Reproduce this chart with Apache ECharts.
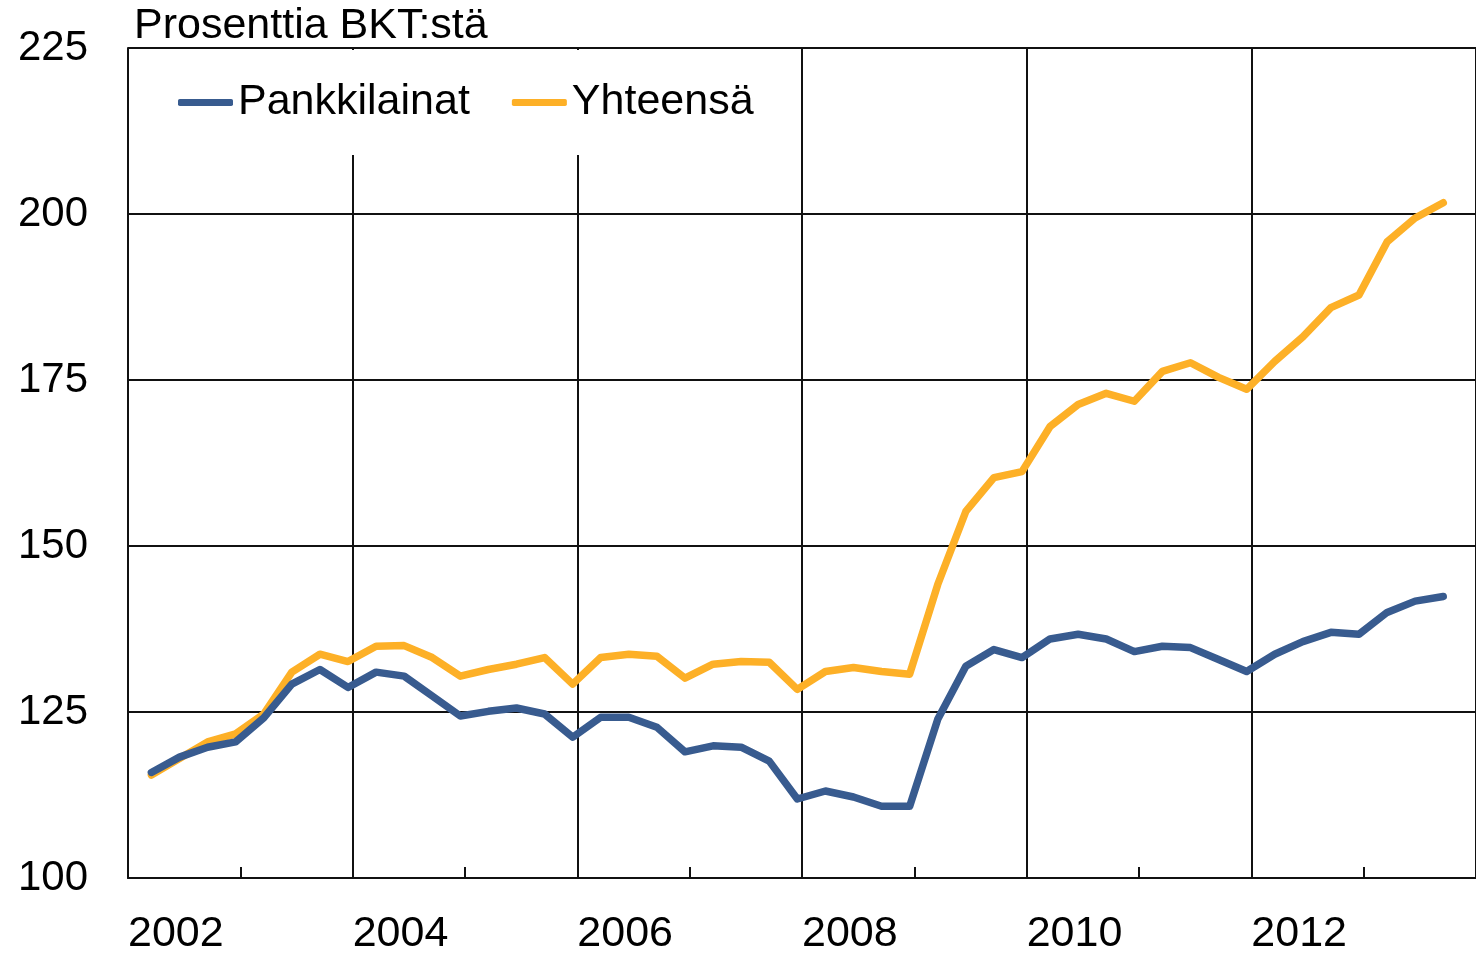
<!DOCTYPE html>
<html lang="fi">

<head>
    <meta charset="UTF-8">
    <title>Prosenttia BKT:stä</title>
    <script src="https://cdn.jsdelivr.net/npm/echarts@6/dist/echarts.min.js"></script>
    <style>
        body { margin: 0; background: #fff; }
    </style>
</head>

<body>
    <div id="main" style="width: 1476px;height:956px;"></div>
    <script>
        // neljännesvuodet 2002Q1 ... 2013Q3
        var quarters = [];
        for (var y = 2002; y <= 2013; y++) {
            for (var q = 1; q <= 4; q++) {
                if (y === 2013 && q === 4) break;
                quarters.push(y + 'Q' + q);
            }
        }

        var pankkilainat = [
            115.9, 118.2, 119.7, 120.5, 124.1, 129.2, 131.4, 128.7, 131.0, 130.4, 127.4, 124.4,
            125.1, 125.6, 124.7, 121.2, 124.2, 124.2, 122.7, 119.0, 119.9, 119.7, 117.6, 111.9,
            113.1, 112.2, 110.8, 110.8, 123.9, 131.9, 134.4, 133.2, 136.0, 136.7, 136.0, 134.1,
            134.9, 134.7, 132.9, 131.1, 133.7, 135.6, 137.0, 136.7, 140.0, 141.7, 142.4
        ];
        var yhteensa = [
            115.5, 118.0, 120.5, 121.7, 124.7, 131.0, 133.7, 132.6, 134.9, 135.0, 133.2, 130.4,
            131.4, 132.2, 133.2, 129.2, 133.2, 133.7, 133.4, 130.1, 132.2, 132.6, 132.5, 128.4,
            131.1, 131.7, 131.1, 130.7, 144.2, 155.2, 160.3, 161.2, 168.0, 171.3, 173.0, 171.8,
            176.3, 177.6, 175.4, 173.6, 177.8, 181.5, 185.9, 187.8, 195.8, 199.4, 201.7
        ];
        var yTicks = [100, 125, 150, 175, 200, 225];

        // neljänneksen viimeisen kuukauden keskikohta
        function qx(label) {
            var y = parseInt(label.substr(0, 4), 10);
            var q = parseInt(label.substr(5, 1), 10);
            return y + (3 * q - 0.5) / 12;
        }
        function pairs(values) {
            return values.map(function (v, i) { return [qx(quarters[i]), v]; });
        }

        var font = '"Liberation Sans", Arial, sans-serif';
        var myChart = echarts.init(document.getElementById('main'));
        var option = {
            animation: false,
            backgroundColor: '#fff',
            title: {
                text: 'Prosenttia BKT:stä',
                left: 134,
                top: 5,
                padding: 0,
                textStyle: { fontFamily: font, fontSize: 43, fontWeight: 'normal', color: '#000' }
            },
            legend: {
                left: 140,
                top: 50,
                padding: [31, 10, 31, 38],
                backgroundColor: '#fff',
                itemWidth: 55,
                itemHeight: 7,
                itemGap: 42,
                icon: 'roundRect',
                textStyle: { fontFamily: font, fontSize: 43, color: '#000' },
                data: ['Pankkilainat', 'Yhteensä']
            },
            grid: { left: 128, right: -4, top: 48, bottom: 77 },
            xAxis: [
                {
                    type: 'value',
                    min: 2002,
                    max: 2014,
                    interval: 1,
                    axisLine: { show: true, lineStyle: { color: '#111', width: 2 } },
                    axisTick: { show: true, inside: true, length: 11, lineStyle: { color: '#111', width: 2 } },
                    axisLabel: { show: false },
                    splitLine: { show: false }
                },
                {
                    type: 'value',
                    position: 'bottom',
                    min: 2002,
                    max: 2014,
                    interval: 2,
                    axisLine: { show: false },
                    axisTick: { show: false },
                    axisLabel: {
                        margin: 35,
                        align: 'left',
                        showMaxLabel: false,
                        fontFamily: font,
                        fontSize: 43,
                        color: '#000',
                        formatter: function (v) { return v >= 2014 ? '' : String(v); }
                    },
                    splitLine: { show: true, lineStyle: { color: '#111', width: 2 } }
                }
            ],
            yAxis: {
                type: 'value',
                min: yTicks[0],
                max: yTicks[yTicks.length - 1],
                interval: 25,
                axisLine: { show: true, lineStyle: { color: '#111', width: 2 } },
                axisTick: { show: false },
                axisLabel: { margin: 40, fontFamily: font, fontSize: 42, color: '#000' },
                splitLine: { show: true, lineStyle: { color: '#111', width: 2 } }
            },
            series: [
                {
                    name: 'Pankkilainat',
                    type: 'line',
                    xAxisIndex: 0,
                    symbol: 'none',
                    color: '#385b8f',
                    lineStyle: { width: 7.5, cap: 'round', join: 'round' },
                    z: 3,
                    data: pairs(pankkilainat)
                },
                {
                    name: 'Yhteensä',
                    type: 'line',
                    xAxisIndex: 0,
                    symbol: 'none',
                    color: '#fdb027',
                    lineStyle: { width: 7.5, cap: 'round', join: 'round' },
                    z: 2,
                    data: pairs(yhteensa)
                }
            ]
        };
        myChart.setOption(option);
    </script>
</body>

</html>
